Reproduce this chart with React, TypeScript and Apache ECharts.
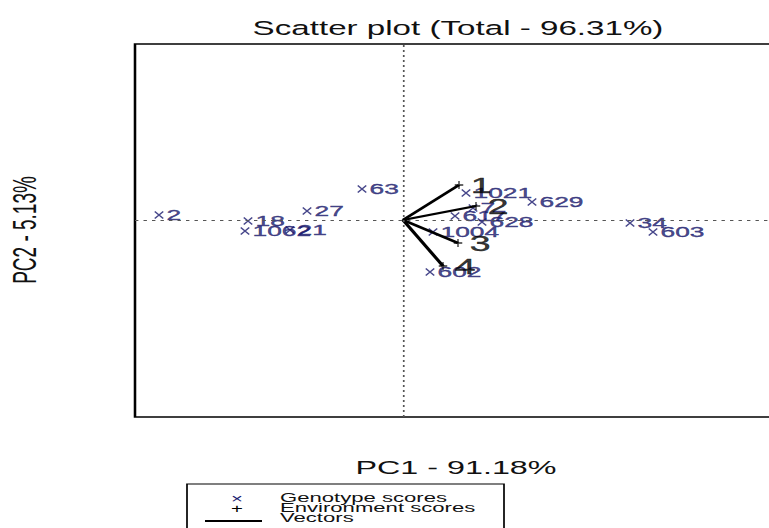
import React, { useEffect, useRef } from "react";
import * as echarts from "echarts";

// Horizontal stretch of the original picture
const S = 1.7;
const FULL_W = 800; // drawn width (in picture pixels), clipped to 769
const W = FULL_W / S;

const genotypeNames = ["2", "18", "1062", "21", "27", "63", "1021", "629", "7", "617", "628", "1004", "602", "34", "603"];
const genotypePC1 = [-2.44, -1.55, -1.58, -1.13, -0.96, -0.41, 0.63, 1.29, 0.70, 0.52, 0.79, 0.30, 0.27, 2.27, 2.50];
const genotypePC2 = [0.05, -0.01, -0.11, -0.10, 0.09, 0.31, 0.27, 0.18, 0.12, 0.04, -0.02, -0.12, -0.52, -0.03, -0.12];

const envNames = ["1", "2", "3", "4"];
const envPC1 = [0.56, 0.73, 0.55, 0.40];
const envPC2 = [0.35, 0.14, -0.23, -0.46];

const titleText = "Scatter plot (Total - 96.31%)";
const xLabel = "PC1 - 91.18%";
const yLabel = "PC2 - 5.13%";
const legendLabels = ["Genotype scores", "Environment scores", "Vectors"];

const BLUE = "#1a1a6e";
const FONT = '"Liberation Sans", Arial, sans-serif';

export default function App() {
  const ref = useRef<HTMLDivElement>(null);
  useEffect(() => {
    if (!ref.current) return;
    const chart = echarts.init(ref.current, null, { renderer: "svg" });
    const gData = genotypeNames.map((n, i) => ({ name: n, value: [genotypePC1[i], genotypePC2[i]] }));
    const eData = envNames.map((n, i) => ({ name: n, value: [envPC1[i], envPC2[i]] }));
    const vectors = envNames.map((n, i) => ({ coords: [[0, 0], [envPC1[i], envPC2[i]]] }));
    chart.setOption({
      animation: false,
      grid: {
        left: 135 / S,
        top: 44,
        width: (790 - 135) / S,
        height: 373,
        show: true,
        borderColor: "#000",
        borderWidth: 1.5,
        backgroundColor: "transparent",
      },
      xAxis: {
        type: "value",
        min: -2.68,
        max: 3.87,
        axisLine: { show: false },
        axisTick: { show: false },
        axisLabel: { show: false },
        splitLine: { show: false },
      },
      yAxis: {
        type: "value",
        min: -1.97,
        max: 1.76,
        axisLine: { show: false },
        axisTick: { show: false },
        axisLabel: { show: false },
        splitLine: { show: false },
      },
      series: [
        {
          type: "scatter",
          data: gData,
          symbol: "path://M0,0L10,10M10,0L0,10",
          symbolSize: [5, 7],
          itemStyle: { color: "rgba(0,0,0,0)", borderColor: BLUE, borderWidth: 1 },
          label: {
            show: true,
            position: "right",
            distance: 1.5,
            formatter: (p: any) => p.name,
            color: BLUE,
            fontSize: 15.5,
            fontFamily: FONT,
            textBorderColor: BLUE,
            textBorderWidth: 0.4,
          },
          markLine: {
            silent: true,
            symbol: "none",
            label: { show: false },
            lineStyle: { color: "#555", type: [2, 3], width: 1 },
            data: [{ xAxis: 0 }, { yAxis: 0 }],
          },
          z: 2,
        },
        {
          type: "lines",
          coordinateSystem: "cartesian2d",
          data: vectors,
          lineStyle: { color: "#000", width: 2.2, opacity: 1 },
          z: 3,
        },
        {
          type: "scatter",
          data: eData,
          symbol: "path://M5,0L5,10M0,5L10,5",
          symbolSize: [5, 8],
          itemStyle: { color: "rgba(0,0,0,0)", borderColor: "#000", borderWidth: 1 },
          label: {
            show: true,
            position: "right",
            distance: 4,
            formatter: (p: any) => p.name,
            color: "#000",
            fontSize: 22,
            fontFamily: FONT,
            textBorderColor: "#000",
            textBorderWidth: 0.4,
          },
          z: 4,
        },
      ],
      graphic: [
        {
          type: "text",
          x: 458 / S,
          y: 28,
          style: { text: titleText, font: `19.5px ${FONT}`, fill: "#111", align: "center", verticalAlign: "middle", textAlign: "center", textVerticalAlign: "middle" },
        },
        {
          type: "text",
          x: 456 / S,
          y: 468,
          style: { text: xLabel, font: `19px ${FONT}`, fill: "#111", align: "center", verticalAlign: "middle", textAlign: "center", textVerticalAlign: "middle" },
        },
        {
          type: "text",
          x: 25 / S,
          y: 230,
          rotation: Math.PI / 2,
          style: { text: yLabel, font: `19px ${FONT}`, fill: "#111", align: "center", verticalAlign: "middle", textAlign: "center", textVerticalAlign: "middle" },
        },
        {
          type: "rect",
          shape: { x: 187 / S, y: 484, width: (504 - 187) / S, height: 60 },
          style: { fill: "#fff", stroke: "#000", lineWidth: 1 },
        },
        {
          type: "text",
          x: 237 / S,
          y: 499,
          style: { text: "×", font: `12px ${FONT}`, fill: BLUE, align: "center", verticalAlign: "middle", textAlign: "center", textVerticalAlign: "middle" },
        },
        {
          type: "text",
          x: 237 / S,
          y: 509,
          style: { text: "+", font: `12px ${FONT}`, fill: "#000", align: "center", verticalAlign: "middle", textAlign: "center", textVerticalAlign: "middle" },
        },
        {
          type: "line",
          shape: { x1: 205 / S, y1: 521, x2: 262 / S, y2: 521 },
          style: { stroke: "#000", lineWidth: 2 },
        },
        ...legendLabels.map((t, i) => ({
          type: "text",
          x: 280 / S,
          y: 498 + i * 10,
          style: { text: t, font: `13px ${FONT}`, fill: "#111", align: "left", verticalAlign: "middle", textAlign: "left", textVerticalAlign: "middle" },
        })),
      ],
    });
    return () => chart.dispose();
  }, []);
  return (
    <div style={{ position: "absolute", left: 0, top: 0, width: 769, height: 528, overflow: "hidden", background: "#fff" }}>
      <div
        ref={ref}
        style={{
          position: "absolute",
          left: 0,
          top: 0,
          width: W,
          height: 528,
          transform: `scaleX(${S})`,
          transformOrigin: "0 0",
        }}
      />
    </div>
  );
}
